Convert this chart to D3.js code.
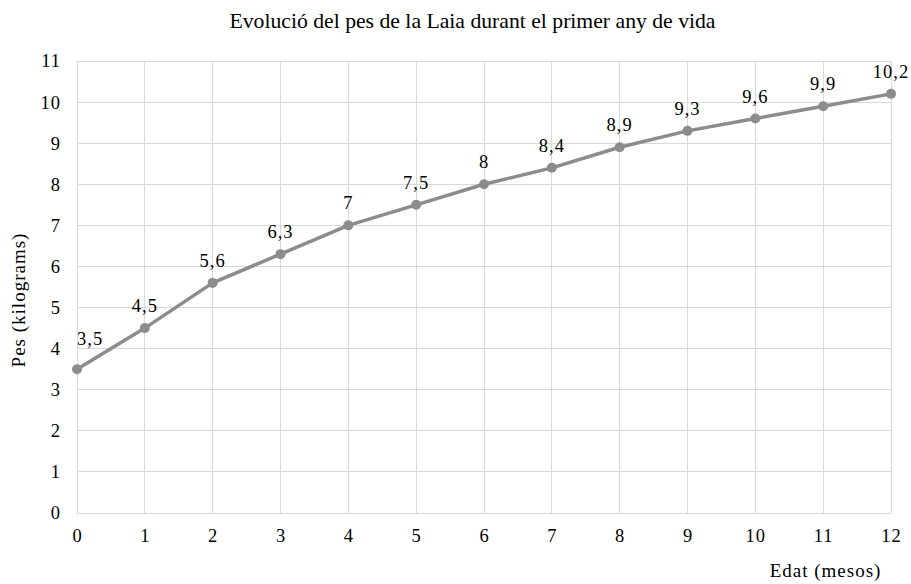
<!DOCTYPE html>
<html><head><meta charset="utf-8">
<script src="https://cdn.jsdelivr.net/npm/d3@7"></script>
<style>body{margin:0;background:#fff}</style>
</head><body>
<svg id="c" width="911" height="584"></svg>
<script>
const months = [0,1,2,3,4,5,6,7,8,9,10,11,12];
const weights = [3.5,4.5,5.6,6.3,7,7.5,8,8.4,8.9,9.3,9.6,9.9,10.2];
const labels = ["3,5","4,5","5,6","6,3","7","7,5","8","8,4","8,9","9,3","9,6","9,9","10,2"];
const yTicks = [0,1,2,3,4,5,6,7,8,9,10,11];
const title = "Evolució del pes de la Laia durant el primer any de vida";
const xTitle = "Edat (mesos)";
const yTitle = "Pes (kilograms)";

const svg = d3.select("#c");
const L=77, R=891, T=61, B=513;
const x = d3.scaleLinear().domain([0,12]).range([L,R]);
const y = d3.scaleLinear().domain([0,11]).range([B,T]);
const serif = "'Liberation Serif', 'Times New Roman', serif";
const grid = "#d9d9d9";
const fs = 18.5, ls = 1;

const g = svg.append("g");
g.selectAll(".hg").data(yTicks).join("line")
  .attr("x1",L).attr("x2",R).attr("y1",d=>y(d)).attr("y2",d=>y(d))
  .attr("stroke",grid).attr("stroke-width",1).attr("shape-rendering","crispEdges");
g.selectAll(".vg").data(months).join("line")
  .attr("x1",d=>x(d)).attr("x2",d=>x(d)).attr("y1",T).attr("y2",B)
  .attr("stroke",grid).attr("stroke-width",1).attr("shape-rendering","crispEdges");

const xa = svg.append("g").attr("transform",`translate(0,${B})`)
  .call(d3.axisBottom(x).tickValues(months).tickSize(0).tickPadding(16).tickFormat(d3.format("d")));
xa.select(".domain").remove();
xa.selectAll("text").attr("font-family",serif).attr("font-size",fs).attr("letter-spacing",ls).attr("fill","#000");

const ya = svg.append("g").attr("transform",`translate(${L},0)`)
  .call(d3.axisLeft(y).tickValues(yTicks).tickSize(0).tickPadding(16).tickFormat(d3.format("d")));
ya.select(".domain").remove();
ya.selectAll("text").attr("font-family",serif).attr("font-size",fs).attr("letter-spacing",ls).attr("fill","#000");

const line = d3.line().x((d,i)=>x(months[i])).y(d=>y(d));
svg.append("path").datum(weights).attr("d",line)
  .attr("fill","none").attr("stroke","#8c8c8c").attr("stroke-width",3.5).attr("stroke-linejoin","round");
svg.selectAll(".pt").data(weights).join("circle")
  .attr("cx",(d,i)=>x(months[i])).attr("cy",d=>y(d)).attr("r",5).attr("fill","#8c8c8c");
svg.selectAll(".lbl").data(weights).join("text")
  .attr("x",(d,i)=>x(months[i]))
  .attr("y",(d,i)=>y(d)-(i===0?24:16))
  .attr("text-anchor",(d,i)=>i===0?"start":"middle")
  .attr("font-family",serif).attr("font-size",fs).attr("letter-spacing",ls).text((d,i)=>labels[i]);

svg.append("text").attr("x",472.5).attr("y",28).attr("text-anchor","middle")
  .attr("font-family",serif).attr("font-size",21.7).text(title);
svg.append("text").attr("x",825.5).attr("y",577).attr("text-anchor","middle")
  .attr("font-family",serif).attr("font-size",19).attr("letter-spacing",1).text(xTitle);
svg.append("text").attr("transform","translate(25,300) rotate(-90)").attr("text-anchor","middle")
  .attr("font-family",serif).attr("font-size",19).attr("letter-spacing",1).text(yTitle);
</script>
</body></html>
